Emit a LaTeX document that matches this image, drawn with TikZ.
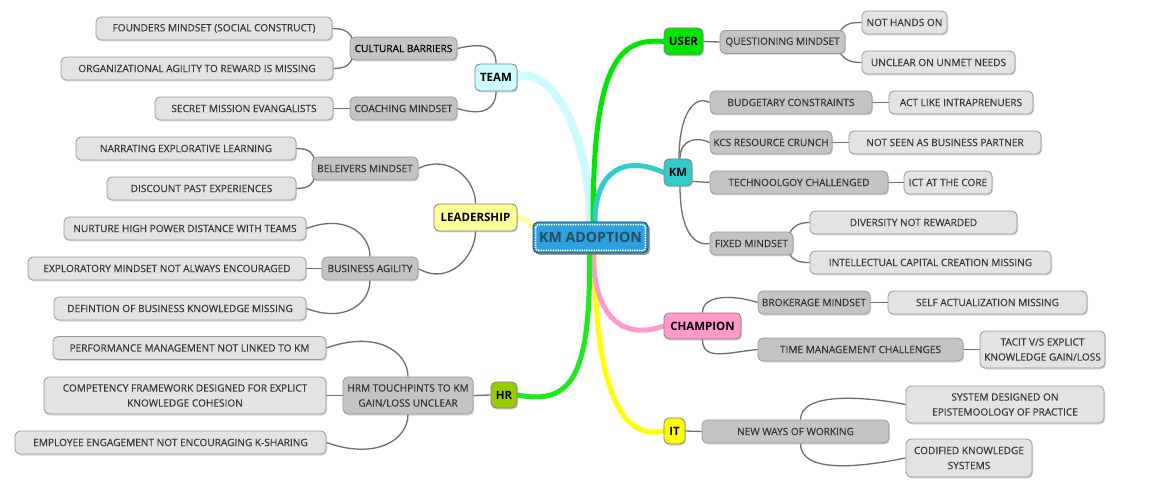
\documentclass[tikz,border=0pt]{standalone}
\usepackage{fontspec}
\setmainfont{Open Sans}
\newfontfamily\boxfont{Open Sans}[FakeBold=0.35]
\usetikzlibrary{shadows,calc,backgrounds}
\definecolor{leaffill}{HTML}{E3E3E3}
\definecolor{subfill}{HTML}{C4C4C4}
\definecolor{connc}{HTML}{6E6E6E}
\definecolor{cteam}{HTML}{CCFCFF}
\definecolor{clead}{HTML}{FFFF99}
\definecolor{chr}{HTML}{99CC00}
\definecolor{cgreen}{HTML}{1EE81E}
\definecolor{cuser}{HTML}{00E600}
\definecolor{ckm}{HTML}{33CCCC}
\definecolor{cchamp}{HTML}{FF99CC}
\definecolor{cit}{HTML}{FFFF00}
\definecolor{ccenter}{HTML}{2DA1DB}
\definecolor{ctext}{HTML}{274B63}
\tikzset{
  box/.style={draw=black!40, rounded corners=5pt, line width=0.8pt, align=center, inner sep=0pt,
    font=\boxfont\fontsize{10.1}{15}\selectfont, text=black!78,
    drop shadow={shadow xshift=1pt, shadow yshift=-1.5pt, opacity=0.3}},
  leaf/.style={box, fill=leaffill},
  sub/.style={box, fill=subfill, text=black!80},
  mainbox/.style={box, draw=black!50, font=\fontsize{11.5}{13}\selectfont\bfseries, text=black},
  conn/.style={draw=connc, line width=1.3pt},
  branch/.style={line width=5pt, line cap=round},
}
\begin{document}
\begin{tikzpicture}[x=1pt,y=-1pt]
\useasboundingbox (0,0) rectangle (1149,481);

% central
\node[draw=black!80, fill=ccenter, rounded corners=5pt, line width=0.8pt, minimum width=115pt, minimum height=31pt, inner sep=0pt,
  font=\fontsize{14.2}{16}\selectfont\bfseries, text=ctext,
  drop shadow={shadow xshift=2pt, shadow yshift=-2pt, opacity=0.75}] (c) at (590.5,237.5) {KM ADOPTION};
\draw[white, densely dotted, line width=1.4pt, rounded corners=3pt] ($(c.north west)+(3,3)$) rectangle ($(c.south east)+(-3,-3)$);

% main branches
\node[mainbox, fill=cteam, minimum width=42pt, minimum height=27pt] (team) at (496,77.5) {TEAM};
\node[mainbox, fill=clead, minimum width=83pt, minimum height=27pt] (lead) at (475.5,217.5) {LEADERSHIP};
\node[mainbox, fill=chr, minimum width=26pt, minimum height=26pt] (hr) at (504,395) {HR};
\node[mainbox, fill=cuser, minimum width=39pt, minimum height=27pt] (user) at (683.5,41.5) {USER};
\node[mainbox, fill=ckm, minimum width=28pt, minimum height=27pt] (km) at (678,172.5) {KM};
\node[mainbox, fill=cchamp, minimum width=77pt, minimum height=26pt] (champ) at (702.5,326) {CHAMPION};
\node[mainbox, fill=cit, minimum width=21pt, minimum height=26pt] (it) at (674.5,431) {IT};

% TEAM
\node[sub, minimum width=107pt, minimum height=23pt, text=black] (cb) at (403.5,48.5) {CULTURAL BARRIERS};
\node[sub, minimum width=107pt, minimum height=23pt] (cm) at (403.5,108.5) {COACHING MINDSET};
\node[leaf, minimum width=236pt, minimum height=23pt] (f1) at (214,28.5) {FOUNDERS MINDSET (SOCIAL CONSTRUCT)};
\node[leaf, minimum width=272pt, minimum height=23pt] (f2) at (197,68.5) {ORGANIZATIONAL AGILITY TO REWARD IS MISSING};
\node[leaf, minimum width=178pt, minimum height=23pt] (f3) at (244,108.5) {SECRET MISSION EVANGALISTS};

% LEADERSHIP
\node[sub, minimum width=106pt, minimum height=23pt] (bm) at (365,168.5) {BELEIVERS MINDSET};
\node[sub, minimum width=96pt, minimum height=23pt] (ba) at (370,268.5) {BUSINESS AGILITY};
\node[leaf, minimum width=220pt, minimum height=23pt] (l1) at (186,148.5) {NARRATING EXPLORATIVE LEARNING};
\node[leaf, minimum width=189pt, minimum height=23pt] (l2) at (201.5,188.5) {DISCOUNT PAST EXPERIENCES};
\node[leaf, minimum width=242pt, minimum height=23pt] (l3) at (185,228.5) {NURTURE HIGH POWER DISTANCE WITH TEAMS};
\node[leaf, minimum width=278pt, minimum height=23pt] (l4) at (167,268.5) {EXPLORATORY MINDSET NOT ALWAYS ENCOURAGED};
\node[leaf, minimum width=252pt, minimum height=23pt] (l5) at (180,308.5) {DEFINTION OF BUSINESS KNOWLEDGE MISSING};

% HR
\node[sub, minimum width=130pt, minimum height=37pt] (hrm) at (408,395.5) {HRM TOUCHPINTS TO KM\\GAIN/LOSS UNCLEAR};
\node[leaf, minimum width=273pt, minimum height=23pt] (h1) at (189.5,348) {PERFORMANCE MANAGEMENT NOT LINKED TO KM};
\node[leaf, minimum width=282pt, minimum height=37pt] (h2) at (185,395.5) {COMPETENCY FRAMEWORK DESIGNED FOR EXPLICT\\KNOWLEDGE COHESION};
\node[leaf, minimum width=311pt, minimum height=23pt] (h3) at (170.5,442.5) {EMPLOYEE ENGAGEMENT NOT ENCOURAGING K-SHARING};

% USER
\node[sub, minimum width=125pt, minimum height=23pt] (qm) at (782.5,42) {QUESTIONING MINDSET};
\node[leaf, minimum width=85pt, minimum height=23pt] (r1) at (904.5,22.5) {NOT HANDS ON};
\node[leaf, minimum width=153pt, minimum height=23pt] (r2) at (938.5,62.5) {UNCLEAR ON UNMET NEEDS};

% KM
\node[sub, minimum width=162pt, minimum height=23pt] (k1) at (791,102.5) {BUDGETARY CONSTRAINTS};
\node[leaf, minimum width=144pt, minimum height=23pt] (k1b) at (961,102.5) {ACT LIKE INTRAPRENUERS};
\node[sub, minimum width=122pt, minimum height=23pt] (k2) at (771,142.5) {KCS RESOURCE CRUNCH};
\node[leaf, minimum width=192pt, minimum height=23pt] (k2b) at (945,142.5) {NOT SEEN AS BUSINESS PARTNER};
\node[sub, minimum width=178pt, minimum height=23pt] (k3) at (799,182.5) {TECHNOOLGOY CHALLENGED};
\node[leaf, minimum width=88pt, minimum height=23pt] (k3b) at (948,182.5) {ICT AT THE CORE};
\node[sub, minimum width=83pt, minimum height=23pt] (k4) at (751.5,243.5) {FIXED MINDSET};
\node[leaf, minimum width=207pt, minimum height=23pt] (k4a) at (913.5,222.5) {DIVERSITY NOT REWARDED};
\node[leaf, minimum width=241pt, minimum height=23pt] (k4b) at (930.5,262.5) {INTELLECTUAL CAPITAL CREATION MISSING};

% CHAMPION
\node[sub, minimum width=112pt, minimum height=23pt] (c1) at (814,302.5) {BROKERAGE MINDSET};
\node[leaf, minimum width=199pt, minimum height=23pt] (c1b) at (987.5,302.5) {SELF ACTUALIZATION MISSING};
\node[sub, minimum width=205pt, minimum height=23pt] (c2) at (860.5,349.5) {TIME MANAGEMENT CHALLENGES};
\node[leaf, minimum width=125pt, minimum height=37pt] (c2b) at (1042.5,349.5) {TACIT V/S EXPLICT\\KNOWLEDGE GAIN/LOSS};

% IT
\node[sub, minimum width=187pt, minimum height=23pt] (i1) at (795.5,431.5) {NEW WAYS OF WORKING};
\node[leaf, minimum width=198pt, minimum height=37pt] (i1a) at (1005,404.5) {SYSTEM DESIGNED ON\\EPISTEMOOLOGY OF PRACTICE};
\node[leaf, minimum width=126pt, minimum height=38pt] (i1b) at (969,458) {CODIFIED KNOWLEDGE\\SYSTEMS};

\begin{pgfonlayer}{background}
\fill[white] (0,0) rectangle (1149,481);
% colored branches
\draw[branch, cteam, line width=8pt] ($(c.north)+(-0.5,2)$) .. controls (588,110) and (540,65) .. (team.east);
\draw[branch, cuser] ($(c.north)+(2.5,0)$) .. controls (593,60) and (620,38) .. (user.west);
\draw[branch, ckm] ($(c.north)+(4.5,0)$) .. controls (595,170) and (625,155) .. (km.west);
\draw[branch, clead] (lead.east) .. controls +(10,0) and +(-10,-4) .. ($(c.north west)+(5,8)$);
\draw[branch, cit] ($(c.south)+(3.5,0)$) .. controls (596,400) and (625,440) .. (it.west);
\draw[branch, cchamp] ($(c.south)+(2.5,0)$) .. controls (594,320) and (625,340) .. (champ.west);
\draw[branch, cgreen] ($(c.south)+(-1,0)$) .. controls (591,380) and (570,405) .. (hr.east);

% TEAM connectors
\draw[conn] (cb.east) .. controls +(25,-6) and +(0,-18) .. (team.north);
\draw[conn] (cm.east) .. controls +(25,8) and +(0,18) .. (team.south);
\draw[conn] (f1.east) .. controls +(14,0) and +(-2,-6) .. ($(cb.north west)+(3,3)$);
\draw[conn] (f2.east) .. controls +(14,0) and +(-2,6) .. ($(cb.south west)+(3,-3)$);
\draw[conn] (f3.east) -- (cm.west);

% LEADERSHIP connectors
\draw[conn] (bm.east) .. controls +(30,-15) and +(0,-25) .. (lead.north);
\draw[conn] (ba.east) .. controls +(30,18) and +(0,25) .. (lead.south);
\draw[conn] (l1.east) .. controls +(14,0) and +(-2,-6) .. ($(bm.north west)+(3,3)$);
\draw[conn] (l2.east) .. controls +(14,0) and +(-2,6) .. ($(bm.south west)+(3,-3)$);
\draw[conn] (l3.east) .. controls +(40,-15) and +(0,-22) .. (ba.north);
\draw[conn] (l4.east) -- (ba.west);
\draw[conn] (l5.east) .. controls +(40,15) and +(0,22) .. (ba.south);

% HR connectors
\draw[conn] (hrm.east) -- (hr.west);
\draw[conn] (h1.east) .. controls +(50,-18) and +(0,-25) .. (hrm.north);
\draw[conn] (h2.east) -- (hrm.west);
\draw[conn] (h3.east) .. controls +(50,18) and +(0,25) .. (hrm.south);

% USER connectors
\draw[conn] (user.east) -- (qm.west);
\draw[conn] ($(qm.north east)+(-6,2)$) .. controls +(6,-9) and +(-10,0) .. (r1.west);
\draw[conn] ($(qm.south east)+(-6,-2)$) .. controls +(6,9) and +(-10,0) .. (r2.west);

% KM connectors
\draw[conn] ($(km.north)+(1,0)$) .. controls +(0,-45) and +(-15,-8) .. (k1.west);
\draw[conn] ($(km.north)+(2,0)$) .. controls +(0,-20) and +(-12,-6) .. (k2.west);
\draw[conn] ($(km.south east)+(0,-5)$) -- (k3.west);
\draw[conn] ($(km.south)+(2,0)$) .. controls +(0,45) and +(-15,3) .. (k4.west);
\draw[conn] (k1.east) -- (k1b.west);
\draw[conn] (k2.east) -- (k2b.west);
\draw[conn] (k3.east) -- (k3b.west);
\draw[conn] ($(k4.north east)+(-4,2)$) .. controls +(4,-8) and +(-10,0) .. (k4a.west);
\draw[conn] ($(k4.south east)+(-4,-2)$) .. controls +(4,8) and +(-10,0) .. (k4b.west);

% CHAMPION connectors
\draw[conn] (champ.north) .. controls +(0,-18) and +(-25,-8) .. (c1.west);
\draw[conn] (champ.south) .. controls +(0,22) and +(-30,3) .. (c2.west);
\draw[conn] (c1.east) -- (c1b.west);
\draw[conn] (c2.east) -- (c2b.west);

% IT connectors
\draw[conn] (it.east) -- (i1.west);
\draw[conn] ($(i1.north)+(5,0)$) .. controls +(0,-28) and +(-40,-8) .. (i1a.west);
\draw[conn] ($(i1.south)+(5,0)$) .. controls +(0,32) and +(-40,8) .. (i1b.west);
\end{pgfonlayer}
\end{tikzpicture}
\end{document}
